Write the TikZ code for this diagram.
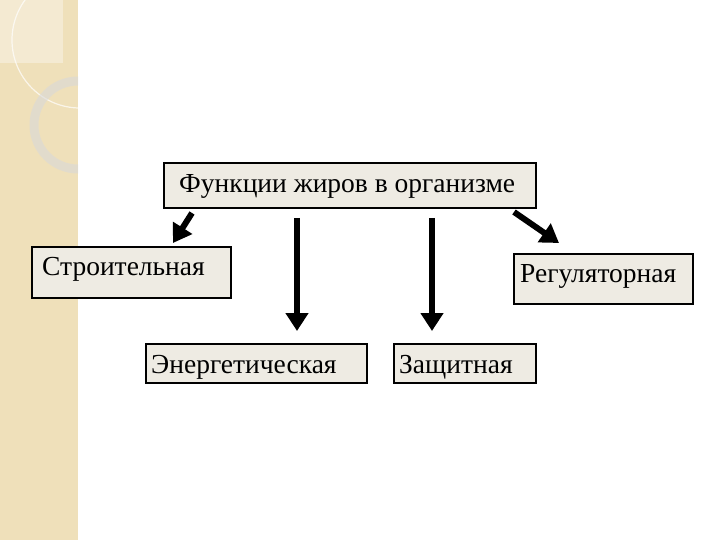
\documentclass[tikz,border=0pt]{standalone}
\usepackage{fontspec}
\setmainfont{Liberation Serif}
\usetikzlibrary{arrows.meta}
\definecolor{strip}{HTML}{EFE0BA}
\definecolor{boxfill}{HTML}{EEEBE3}
\tikzset{
  fbox/.style={draw=black, line width=1.6pt, fill=boxfill, inner sep=0pt, anchor=north west},
  lbl/.style={font=\fontsize{27.5}{28}\selectfont, anchor=base west, inner sep=0pt},
  arr/.style={line width=6pt, -{Triangle[width=22pt,length=18pt]}}
}
\begin{document}
\begin{tikzpicture}[x=1pt,y=-1pt]
\useasboundingbox (0,0) rectangle (720,540);
\fill[white] (0,0) rectangle (720,540);
\fill[strip] (0,0) rectangle (78,540);
\begin{scope}
\clip (0,0) rectangle (78,540);
\fill[white,opacity=0.35] (0,0) rectangle (63,63);
\draw[white,opacity=0.7,line width=1.2pt] (80,40) circle (68);
\draw[black!15,opacity=0.6,line width=9pt] (78,125) circle (44);
\end{scope}
\node[fbox, minimum width=372pt, minimum height=45pt] (top) at (163,162) {};
\node[lbl] (tt) at (179,193) {Функции жиров в организме};
\node[fbox, minimum width=199pt, minimum height=51pt] (s) at (31,246) {};
\node[lbl] (st) at (42,275) {Строительная};
\node[fbox, minimum width=179pt, minimum height=50pt] (r) at (513,253) {};
\node[lbl] (rt) at (520,282) {Регуляторная};
\node[fbox, minimum width=221pt, minimum height=39pt] (e) at (145,343) {};
\node[lbl] (et) at (151,373) {Энергетическая};
\node[fbox, minimum width=142pt, minimum height=39pt] (z) at (393,343) {};
\node[lbl] (zt) at (399,373) {Защитная};
\coordinate (a1s) at (192,213); \coordinate (a1e) at (173,243);
\coordinate (a2s) at (297,218); \coordinate (a2e) at (297,331);
\coordinate (a3s) at (432,218); \coordinate (a3e) at (432,331);
\coordinate (a4s) at (514,212); \coordinate (a4e) at (559,243);
\draw[arr] (a1s) -- (a1e);
\draw[arr] (a2s) -- (a2e);
\draw[arr] (a3s) -- (a3e);
\draw[arr] (a4s) -- (a4e);
\end{tikzpicture}
\end{document}
